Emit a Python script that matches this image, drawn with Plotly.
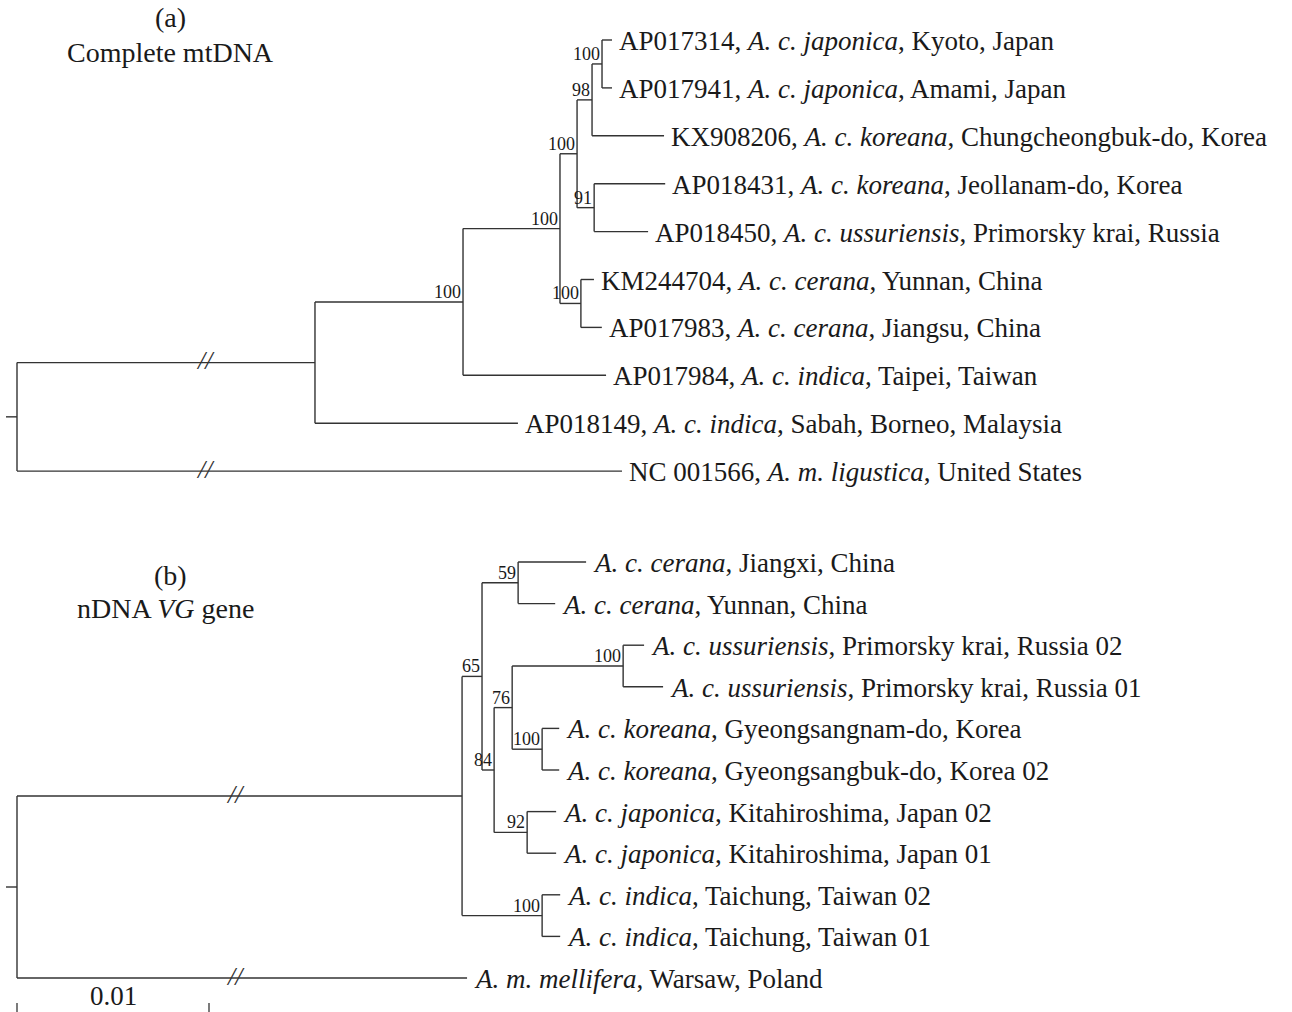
import plotly.graph_objects as go

# ---------------- data: panel (a) complete mtDNA ----------------
A_CHILD = ["n1", "n2", "n3", "n4", "n5", "n6", "AP017314", "AP017941", "KX908206",
           "nku", "AP018431", "AP018450", "ncer", "KM244704", "AP017983",
           "AP017984", "AP018149", "NC001566"]
A_PARENT = ["root", "n1", "n2", "n3", "n4", "n5", "n6", "n6", "n5",
            "n4", "nku", "nku", "n3", "ncer", "ncer",
            "n2", "n1", "root"]
A_LEN = [0.01552, 0.00771, 0.00505, 0.00089, 0.00078, 0.00052, 0.00052, 0.00052, 0.00375,
         0.00089, 0.00370, 0.00281, 0.00109, 0.00068, 0.00109,
         0.00745, 0.01057, 0.03151]
A_LEAVES = ["AP017314", "AP017941", "KX908206", "AP018431", "AP018450",
            "KM244704", "AP017983", "AP017984", "AP018149", "NC001566"]
A_LABELS = [
    "AP017314, <i>A. c. japonica</i>, Kyoto, Japan",
    "AP017941, <i>A. c. japonica</i>, Amami, Japan",
    "KX908206, <i>A. c. koreana</i>, Chungcheongbuk-do, Korea",
    "AP018431, <i>A. c. koreana</i>, Jeollanam-do, Korea",
    "AP018450, <i>A. c. ussuriensis</i>, Primorsky krai, Russia",
    "KM244704, <i>A. c. cerana</i>, Yunnan, China",
    "AP017983, <i>A. c. cerana</i>, Jiangsu, China",
    "AP017984, <i>A. c. indica</i>, Taipei, Taiwan",
    "AP018149, <i>A. c. indica</i>, Sabah, Borneo, Malaysia",
    "NC 001566, <i>A. m. ligustica</i>, United States",
]
A_SUP_NODE = ["n2", "n3", "n4", "n5", "n6", "nku", "ncer"]
A_SUP_VAL = [100, 100, 100, 98, 100, 91, 100]
A_BROKEN = ["n1", "NC001566"]

# ---------------- data: panel (b) nDNA VG gene ----------------
B_CHILD = ["r", "mel", "a", "ind", "cer", "b", "cJx", "cYn", "c", "jap",
           "uss", "kor", "uR02", "uR01", "kGn", "kGb", "jJ02", "jJ01", "iT02", "iT01"]
B_PARENT = ["root", "root", "r", "r", "a", "a", "cer", "cer", "b", "b",
            "c", "c", "uss", "uss", "kor", "kor", "jap", "jap", "ind", "ind"]
B_LEN = [0.02318, 0.02344, 0.00104, 0.00417, 0.00188, 0.00063, 0.00354, 0.00193, 0.00094, 0.00172,
         0.00578, 0.00156, 0.00109, 0.00208, 0.00089, 0.00089, 0.00151, 0.00151, 0.00094, 0.00094]
B_LEAVES = ["cJx", "cYn", "uR02", "uR01", "kGn", "kGb", "jJ02", "jJ01", "iT02", "iT01", "mel"]
B_LABELS = [
    "<i>A. c. cerana</i>, Jiangxi, China",
    "<i>A. c. cerana</i>, Yunnan, China",
    "<i>A. c. ussuriensis</i>, Primorsky krai, Russia 02",
    "<i>A. c. ussuriensis</i>, Primorsky krai, Russia 01",
    "<i>A. c. koreana</i>, Gyeongsangnam-do, Korea",
    "<i>A. c. koreana</i>, Gyeongsangbuk-do, Korea 02",
    "<i>A. c. japonica</i>, Kitahiroshima, Japan 02",
    "<i>A. c. japonica</i>, Kitahiroshima, Japan 01",
    "<i>A. c. indica</i>, Taichung, Taiwan 02",
    "<i>A. c. indica</i>, Taichung, Taiwan 01",
    "<i>A. m. mellifera</i>, Warsaw, Poland",
]
B_SUP_NODE = ["a", "cer", "b", "c", "uss", "kor", "jap", "ind"]
B_SUP_VAL = [65, 59, 84, 76, 100, 100, 92, 100]
B_BROKEN = ["r", "mel"]

SCALE_BAR = 0.01

# ---------------- layout constants (pixels) ----------------
W, H = 1292, 1012
PX_PER_UNIT = 19200.0      # 0.01 substitutions = 192 px
ROOT_PX = 17
A_ROW0, A_STEP = 40, 47.9
B_ROW0, B_STEP = 562, 41.6
BREAK_A, BREAK_B = 0.0098, 0.0114
FONT = "Liberation Serif"
LINE_COLOR = "#333333"
TEXT_COLOR = "#1a1a1a"
LEAF_SIZE = 27
SUP_SIZE = 18
TITLE_SIZE = 28


def layout_tree(child, parent, length, leaves):
    kids = {}
    for c, p in zip(child, parent):
        kids.setdefault(p, []).append(c)
    blen = dict(zip(child, length))
    depth = {"root": 0.0}
    order = ["root"]
    i = 0
    while i < len(order):
        n = order[i]
        for k in kids.get(n, []):
            depth[k] = depth[n] + blen[k]
            order.append(k)
        i += 1
    ypos = {lf: j for j, lf in enumerate(leaves)}

    def gety(n):
        if n in ypos:
            return ypos[n]
        ys = [gety(k) for k in kids[n]]
        ypos[n] = (min(ys) + max(ys)) / 2
        return ypos[n]

    gety("root")
    xs, ys = [], []
    for c, p in zip(child, parent):
        xs += [depth[p], depth[c], None]
        ys += [ypos[c], ypos[c], None]
    for n, ks in kids.items():
        cy = [ypos[k] for k in ks]
        xs += [depth[n], depth[n], None]
        ys += [min(cy), max(cy), None]
    return depth, ypos, xs, ys


fig = go.Figure()
annotations = []

panels = [
    (A_CHILD, A_PARENT, A_LEN, A_LEAVES, A_LABELS, A_SUP_NODE, A_SUP_VAL, A_BROKEN, BREAK_A, "y", "y"),
    (B_CHILD, B_PARENT, B_LEN, B_LEAVES, B_LABELS, B_SUP_NODE, B_SUP_VAL, B_BROKEN, BREAK_B, "y2", "y2"),
]
for (ch, pa, ln, lv, lb, sn, sv, br, bx, yax, yref) in panels:
    depth, ypos, xs, ys = layout_tree(ch, pa, ln, lv)
    fig.add_trace(go.Scatter(x=xs, y=ys, mode="lines", yaxis=yax,
                             line=dict(color=LINE_COLOR, width=1.4),
                             hoverinfo="skip", showlegend=False))
    # root tick
    fig.add_trace(go.Scatter(x=[-11 / PX_PER_UNIT, 0], y=[ypos["root"]] * 2, mode="lines", yaxis=yax,
                             line=dict(color=LINE_COLOR, width=1.4),
                             hoverinfo="skip", showlegend=False))
    for leaf, text in zip(lv, lb):
        annotations.append(dict(x=depth[leaf], y=ypos[leaf], xref="x", yref=yref, text=text,
                                showarrow=False, xanchor="left", yanchor="middle", xshift=5, yshift=-1,
                                font=dict(family=FONT, size=LEAF_SIZE, color=TEXT_COLOR)))
    for n, v in zip(sn, sv):
        annotations.append(dict(x=depth[n], y=ypos[n], xref="x", yref=yref, text=str(v),
                                showarrow=False, xanchor="right", yanchor="bottom", xshift=0, yshift=-2,
                                font=dict(family=FONT, size=SUP_SIZE, color=TEXT_COLOR)))
    for e in br:
        annotations.append(dict(x=bx, y=ypos[e], xref="x", yref=yref, text="<i>//</i>",
                                showarrow=False, xanchor="center", yanchor="middle", yshift=2,
                                font=dict(family=FONT, size=26, color=LINE_COLOR)))

# titles
for txt, xp, yp in [("(a)", 170, 17), ("Complete mtDNA", 170, 52),
                    ("(b)", 170, 575), ("nDNA <i>VG</i> gene", 165, 608)]:
    annotations.append(dict(x=xp / W, y=1 - yp / H, xref="paper", yref="paper", text=txt,
                            showarrow=False, xanchor="center", yanchor="middle",
                            font=dict(family=FONT, size=TITLE_SIZE, color=TEXT_COLOR)))

# scale bar
shapes = []
for v in [0, SCALE_BAR]:
    shapes.append(dict(type="line", xref="x", yref="paper", x0=v, x1=v, y0=0, y1=9 / H,
                       line=dict(color=LINE_COLOR, width=1.3)))
annotations.append(dict(x=SCALE_BAR / 2, y=1 - 996 / H, xref="x", yref="paper", text=str(SCALE_BAR),
                        showarrow=False, xanchor="center", yanchor="middle",
                        font=dict(family=FONT, size=LEAF_SIZE, color=TEXT_COLOR)))

fig.update_layout(
    width=W, height=H, margin=dict(l=0, r=0, t=0, b=0),
    paper_bgcolor="white", plot_bgcolor="white",
    xaxis=dict(range=[-ROOT_PX / PX_PER_UNIT, (W - ROOT_PX) / PX_PER_UNIT], visible=False, fixedrange=True),
    yaxis=dict(range=[(H - A_ROW0) / A_STEP, -A_ROW0 / A_STEP], visible=False, fixedrange=True),
    yaxis2=dict(range=[(H - B_ROW0) / B_STEP, -B_ROW0 / B_STEP], visible=False, fixedrange=True,
                overlaying="y"),
    annotations=annotations, shapes=shapes,
)

fig.write_html("out.html", config={"displayModeBar": False},
               post_script="document.body.style.margin='0';")
